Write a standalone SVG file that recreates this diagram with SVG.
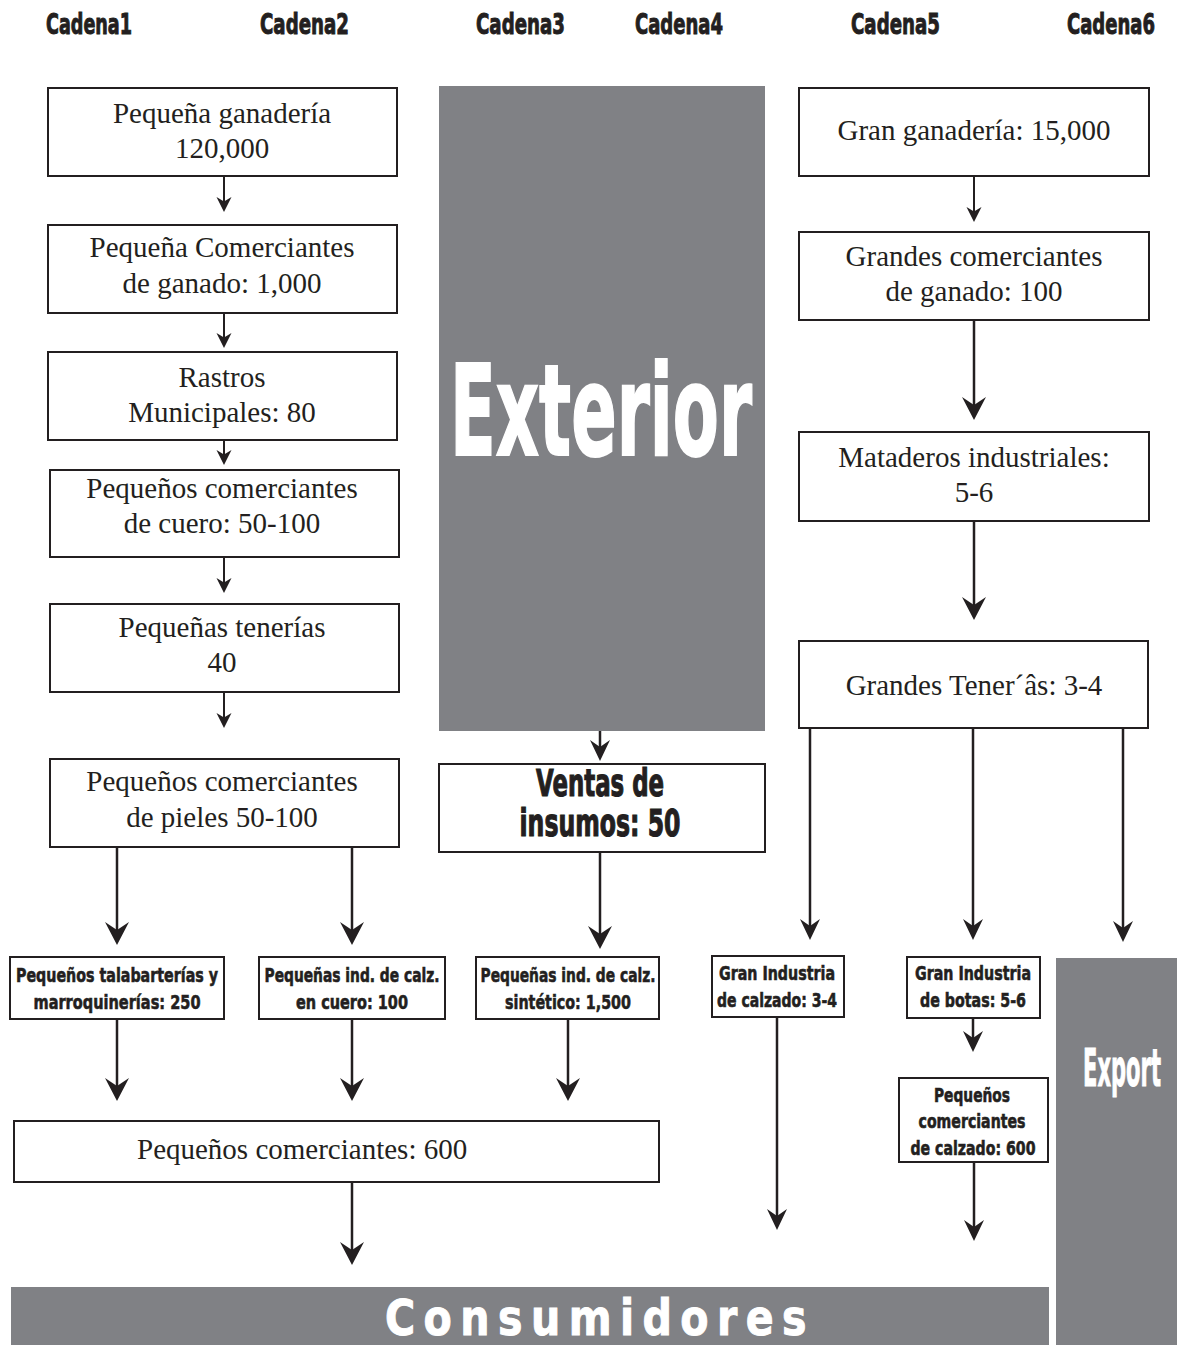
<svg xmlns="http://www.w3.org/2000/svg" width="1177" height="1345" viewBox="0 0 1177 1345">
<style>
.box{fill:#fff;stroke:#231f20;stroke-width:2}
.ser{font-family:"Liberation Serif",serif;font-size:29px;fill:#231f20;text-anchor:middle}
.bd{font-family:"DejaVu Sans",sans-serif;font-weight:bold;fill:#231f20;stroke:#231f20;stroke-width:0.7px;text-anchor:middle}
.hd{font-size:28px;stroke-width:1px}
.sm{font-size:19px;stroke-width:0.6px}
.wh{fill:#fff;stroke:#fff}
.gray{fill:#808185}
.conn{stroke:#231f20;fill:none}
.c1{stroke-width:2}
.c2{stroke-width:2.5}
</style>
<defs>
<marker id="aS" markerUnits="userSpaceOnUse" viewBox="-16 -9 18 18" markerWidth="18" markerHeight="18" refX="-5" refY="0" orient="auto">
<path d="M0,0 L-15,-7.5 L-10.5,0 L-15,7.5 Z" fill="#231f20"/>
</marker>
<marker id="aM" markerUnits="userSpaceOnUse" viewBox="-22 -12 24 24" markerWidth="24" markerHeight="24" refX="-6" refY="0" orient="auto">
<path d="M0,0 L-21,-10 L-14,0 L-21,10 Z" fill="#231f20"/>
</marker>
<marker id="aL" markerUnits="userSpaceOnUse" viewBox="-24 -14 26 28" markerWidth="26" markerHeight="28" refX="-6" refY="0" orient="auto">
<path d="M0,0 L-23,-12 L-15,0 L-23,12 Z" fill="#231f20"/>
</marker>
</defs>

<g id="headers">
<text class="bd hd" x="89" y="34" textLength="86" lengthAdjust="spacingAndGlyphs">Cadena1</text>
<text class="bd hd" x="304.5" y="34" textLength="89" lengthAdjust="spacingAndGlyphs">Cadena2</text>
<text class="bd hd" x="520.5" y="34" textLength="89" lengthAdjust="spacingAndGlyphs">Cadena3</text>
<text class="bd hd" x="679" y="34" textLength="88" lengthAdjust="spacingAndGlyphs">Cadena4</text>
<text class="bd hd" x="895.5" y="34" textLength="89" lengthAdjust="spacingAndGlyphs">Cadena5</text>
<text class="bd hd" x="1111" y="34" textLength="88" lengthAdjust="spacingAndGlyphs">Cadena6</text>
</g>

<g id="connectors">
<line class="conn c1" x1="224" y1="176" x2="224" y2="207" marker-end="url(#aS)"/>
<line class="conn c1" x1="224" y1="313" x2="224" y2="343" marker-end="url(#aS)"/>
<line class="conn c1" x1="224" y1="440" x2="224" y2="460" marker-end="url(#aS)"/>
<line class="conn c1" x1="224" y1="557" x2="224" y2="588" marker-end="url(#aS)"/>
<line class="conn c1" x1="224" y1="692" x2="224" y2="723" marker-end="url(#aS)"/>
<line class="conn c2" x1="117" y1="847" x2="117" y2="939" marker-end="url(#aL)"/>
<line class="conn c2" x1="352" y1="847" x2="352" y2="939" marker-end="url(#aL)"/>
<line class="conn c2" x1="117" y1="1019" x2="117" y2="1095" marker-end="url(#aL)"/>
<line class="conn c2" x1="352" y1="1019" x2="352" y2="1095" marker-end="url(#aL)"/>
<line class="conn c2" x1="568" y1="1019" x2="568" y2="1095" marker-end="url(#aL)"/>
<line class="conn c2" x1="352" y1="1182" x2="352" y2="1259" marker-end="url(#aL)"/>
<line class="conn c2" x1="600" y1="731" x2="600" y2="755" marker-end="url(#aM)"/>
<line class="conn c2" x1="600" y1="852" x2="600" y2="943" marker-end="url(#aL)"/>
<line class="conn c1" x1="974" y1="176" x2="974" y2="217" marker-end="url(#aS)"/>
<line class="conn c2" x1="974" y1="320" x2="974" y2="414" marker-end="url(#aL)"/>
<line class="conn c2" x1="974" y1="521" x2="974" y2="614" marker-end="url(#aL)"/>
<line class="conn c2" x1="810" y1="728" x2="810" y2="934" marker-end="url(#aM)"/>
<line class="conn c2" x1="973" y1="728" x2="973" y2="934" marker-end="url(#aM)"/>
<line class="conn c2" x1="1123" y1="728" x2="1123" y2="936" marker-end="url(#aM)"/>
<line class="conn c2" x1="777" y1="1017" x2="777" y2="1224" marker-end="url(#aM)"/>
<line class="conn c2" x1="973" y1="1018" x2="973" y2="1046" marker-end="url(#aM)"/>
<line class="conn c2" x1="974" y1="1162" x2="974" y2="1235" marker-end="url(#aM)"/>
</g>

<g id="n-pequena-ganaderia">
<rect class="box" x="48" y="88" width="349" height="88"/>
<text class="ser" x="222" y="123">Pequeña ganadería</text>
<text class="ser" x="222" y="158">120,000</text>
</g>
<g id="n-pequena-comerciantes">
<rect class="box" x="48" y="225" width="349" height="88"/>
<text class="ser" x="222" y="257">Pequeña Comerciantes</text>
<text class="ser" x="222" y="293">de ganado: 1,000</text>
</g>
<g id="n-rastros">
<rect class="box" x="48" y="352" width="349" height="88"/>
<text class="ser" x="222" y="387">Rastros</text>
<text class="ser" x="222" y="422">Municipales: 80</text>
</g>
<g id="n-comerciantes-cuero">
<rect class="box" x="50" y="470" width="349" height="87"/>
<text class="ser" x="222" y="498">Pequeños comerciantes</text>
<text class="ser" x="222" y="533">de cuero: 50-100</text>
</g>
<g id="n-tenerias">
<rect class="box" x="50" y="604" width="349" height="88"/>
<text class="ser" x="222" y="637">Pequeñas tenerías</text>
<text class="ser" x="222" y="672">40</text>
</g>
<g id="n-comerciantes-pieles">
<rect class="box" x="50" y="759" width="349" height="88"/>
<text class="ser" x="222" y="791">Pequeños comerciantes</text>
<text class="ser" x="222" y="827">de pieles 50-100</text>
</g>

<g id="n-talabarterias">
<rect class="box" x="10" y="957" width="214" height="62"/>
<text class="bd sm" x="117" y="982" textLength="202" lengthAdjust="spacingAndGlyphs">Pequeños talabarterías y</text>
<text class="bd sm" x="117" y="1009" textLength="167" lengthAdjust="spacingAndGlyphs">marroquinerías: 250</text>
</g>
<g id="n-calz-cuero">
<rect class="box" x="259" y="957" width="186" height="62"/>
<text class="bd sm" x="352" y="982" textLength="175" lengthAdjust="spacingAndGlyphs">Pequeñas ind. de calz.</text>
<text class="bd sm" x="352" y="1009" textLength="112" lengthAdjust="spacingAndGlyphs">en cuero: 100</text>
</g>
<g id="n-calz-sintetico">
<rect class="box" x="476" y="957" width="183" height="62"/>
<text class="bd sm" x="568" y="982" textLength="175" lengthAdjust="spacingAndGlyphs">Pequeñas ind. de calz.</text>
<text class="bd sm" x="568" y="1009" textLength="126" lengthAdjust="spacingAndGlyphs">sintético: 1,500</text>
</g>

<g id="n-pequenos-comerciantes-600">
<rect class="box" x="14" y="1121" width="645" height="61"/>
<text class="ser" x="137" y="1159" style="text-anchor:start">Pequeños comerciantes: 600</text>
</g>

<g id="n-exterior">
<rect class="gray" x="439" y="86" width="326" height="645"/>
<text class="bd wh" x="601" y="455" style="font-size:127px;stroke-width:2px" textLength="302" lengthAdjust="spacingAndGlyphs">Exterior</text>
</g>
<g id="n-ventas-insumos">
<rect class="box" x="439" y="764" width="326" height="88"/>
<text class="bd" x="600" y="796" style="font-size:37px;stroke-width:1.2px" textLength="128" lengthAdjust="spacingAndGlyphs">Ventas de</text>
<text class="bd" x="600" y="836" style="font-size:37px;stroke-width:1.2px" textLength="161" lengthAdjust="spacingAndGlyphs">insumos: 50</text>
</g>

<g id="n-gran-ganaderia">
<rect class="box" x="799" y="88" width="350" height="88"/>
<text class="ser" x="974" y="140">Gran ganadería: 15,000</text>
</g>
<g id="n-grandes-comerciantes">
<rect class="box" x="799" y="232" width="350" height="88"/>
<text class="ser" x="974" y="266">Grandes comerciantes</text>
<text class="ser" x="974" y="301">de ganado: 100</text>
</g>
<g id="n-mataderos">
<rect class="box" x="799" y="432" width="350" height="89"/>
<text class="ser" x="974" y="467">Mataderos industriales:</text>
<text class="ser" x="974" y="502">5-6</text>
</g>
<g id="n-grandes-tenerias">
<rect class="box" x="799" y="641" width="349" height="87"/>
<text class="ser" x="974" y="695">Grandes Tener´âs: 3-4</text>
</g>

<g id="n-gran-industria-calzado">
<rect class="box" x="712" y="956" width="132" height="61"/>
<text class="bd sm" x="777" y="980" textLength="116" lengthAdjust="spacingAndGlyphs">Gran Industria</text>
<text class="bd sm" x="777" y="1007" textLength="120" lengthAdjust="spacingAndGlyphs">de calzado: 3-4</text>
</g>
<g id="n-gran-industria-botas">
<rect class="box" x="907" y="957" width="133" height="61"/>
<text class="bd sm" x="973" y="980" textLength="116" lengthAdjust="spacingAndGlyphs">Gran Industria</text>
<text class="bd sm" x="973" y="1007" textLength="106" lengthAdjust="spacingAndGlyphs">de botas: 5-6</text>
</g>
<g id="n-comerciantes-calzado">
<rect class="box" x="899" y="1078" width="149" height="84"/>
<text class="bd sm" x="972" y="1102" textLength="76" lengthAdjust="spacingAndGlyphs">Pequeños</text>
<text class="bd sm" x="972" y="1128" textLength="107" lengthAdjust="spacingAndGlyphs">comerciantes</text>
<text class="bd sm" x="973" y="1155" textLength="125" lengthAdjust="spacingAndGlyphs">de calzado: 600</text>
</g>

<g id="n-export">
<rect class="gray" x="1056" y="958" width="121" height="387"/>
<text class="bd wh" x="1122" y="1086" style="font-size:52px;stroke-width:1px" textLength="78" lengthAdjust="spacingAndGlyphs">Export</text>
</g>
<g id="n-consumidores">
<rect class="gray" x="11" y="1287" width="1038" height="58"/>
<text class="bd wh" x="600" y="1335" style="font-size:49px;letter-spacing:10px;stroke-width:1px" textLength="430" lengthAdjust="spacingAndGlyphs">Consumidores</text>
</g>
</svg>
